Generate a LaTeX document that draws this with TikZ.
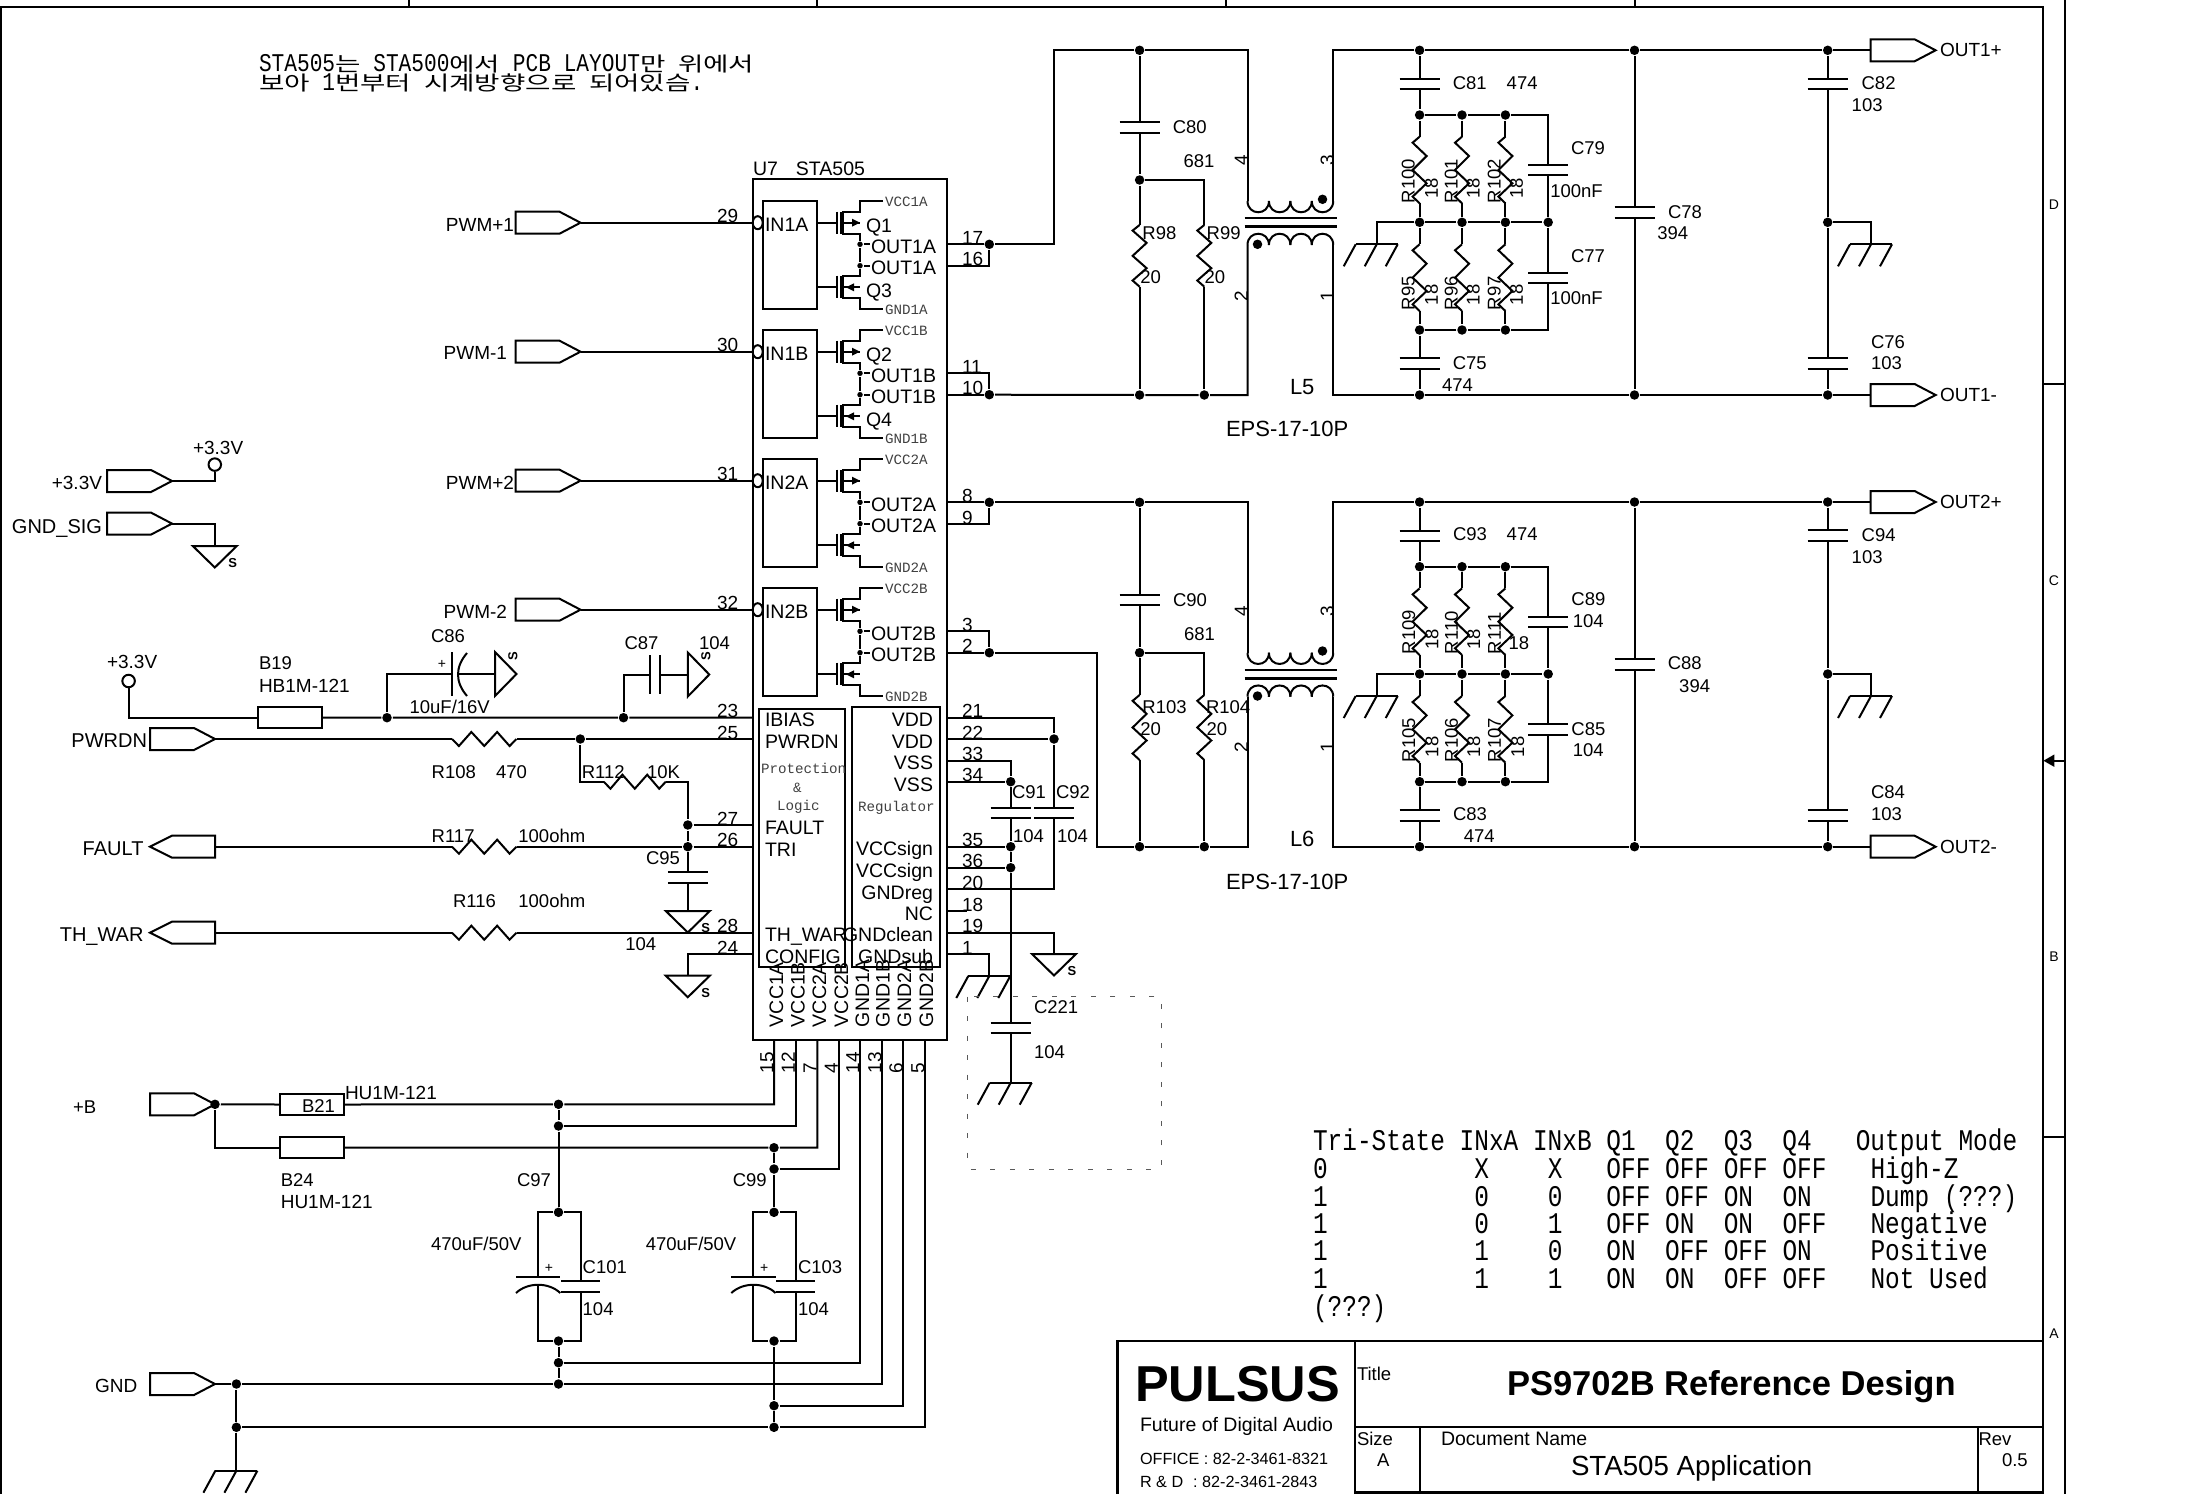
\documentclass[tikz,border=0pt]{standalone}
\usepackage{fontspec}
\usetikzlibrary{arrows.meta,shapes.geometric}
\setmainfont{Liberation Sans}
\newfontfamily\smallmono{Liberation Mono}
\newfontfamily\tablemono[FakeStretch=0.815]{Liberation Mono}
\newfontfamily\notemono[FakeStretch=0.83]{Liberation Mono}
\newfontfamily\notekr[FakeStretch=1.38]{Noto Sans CJK KR}
\newcommand{\kr}[1]{{\notekr\fontsize{20}{19.7}\selectfont #1}}
\tikzset{
  netdot/.style={circle,fill=black,inner sep=0pt,minimum size=9.5pt},
  fetdot/.style={circle,fill=black,inner sep=0pt,minimum size=5.5pt},
  bubble/.style={ellipse,draw,fill=white,inner sep=0pt,minimum width=10pt,minimum height=13pt},
  vccring/.style={circle,draw,inner sep=0pt,minimum size=12.5pt},
  bead/.style={draw,inner sep=0pt,minimum width=64pt,minimum height=21.6pt},
  lab/.style={anchor=west,inner sep=0pt,text height=13pt,text depth=0pt,font=\fontsize{18.5}{21}\selectfont},
  labr/.style={lab,anchor=east},
  labup/.style={lab,rotate=90},
  sidelab/.style={labr,text height=14pt,font=\fontsize{20}{22}\selectfont},
  chip/.style={anchor=west,inner sep=0pt,text height=14pt,text depth=0pt,font=\fontsize{19.5}{22}\selectfont},
  chipr/.style={chip,anchor=east},
  chipup/.style={chip,rotate=90},
  pinnum/.style={anchor=west,inner sep=0pt,text height=13.5pt,text depth=0pt,font=\fontsize{19}{22}\selectfont},
  pinup/.style={pinnum,rotate=90},
  tinymono/.style={anchor=west,inner sep=0pt,text height=8pt,text depth=0pt,text=black!75,font=\smallmono\fontsize{14.2}{16}\selectfont},
  gndmark/.style={inner sep=0pt,font=\fontsize{13}{13}\selectfont\bfseries},
  tabrow/.style={anchor=west,inner sep=0pt,text height=20pt,text depth=0pt,font=\tablemono\fontsize{30}{28}\selectfont},
  sheetmark/.style={inner sep=0pt,font=\fontsize{14}{16}\selectfont},
}
% parts
\newcommand{\capv}[5]{
  \coordinate (#1a) at (#2,#3);
  \coordinate (#1b) at (#2,#4);
  \draw ({#2-#5},#3) -- ({#2+#5},#3);
  \draw ({#2-#5},#4) -- ({#2+#5},#4);
}
\newcommand{\resv}[4]{
  \coordinate (#1a) at (#2,#3);
  \coordinate (#1b) at (#2,#4);
  \draw (#1a) -- ({#2-7},{#3+.09*(#4-#3)}) -- ({#2+7},{#3+.29*(#4-#3)}) -- ({#2-7},{#3+.5*(#4-#3)})
    -- ({#2+7},{#3+.7*(#4-#3)}) -- ({#2-7},{#3+.9*(#4-#3)}) -- (#1b);
}
\newcommand{\resh}[4]{
  \coordinate (#1a) at (#2,#4);
  \coordinate (#1b) at (#3,#4);
  \draw (#1a) -- ({#2+.107*(#3-#2)},{#4+7}) -- ({#2+.3*(#3-#2)},{#4-7}) -- ({#2+.5*(#3-#2)},{#4+7})
    -- ({#2+.7*(#3-#2)},{#4-7}) -- ({#2+.893*(#3-#2)},{#4+7}) -- (#1b);
}
\newcommand{\earth}[3]{
  \coordinate (#1) at (#2,#3);
  \draw ({#2-21},#3) -- ({#2+21},#3);
  \foreach \dx in {-21,0,21} {\draw ({#2+\dx},#3) -- ++(-12,22);}
}
\newcommand{\sgnd}[3]{
  \coordinate (#1) at (#2,#3);
  \draw ({#2-22},#3) -- ({#2+22},#3) -- (#2,{#3+21.5}) -- cycle;
  \node[gndmark] (#1s) at ({#2+18},{#3+17.5}) {S};
}
\newcommand{\sgndr}[3]{
  \coordinate (#1) at (#2,#3);
  \draw (#2,{#3-22}) -- (#2,{#3+22}) -- ({#2+21.5},#3) -- cycle;
  \node[gndmark,rotate=90] (#1s) at ({#2+18},{#3-18}) {S};
}
\newcommand{\port}[3]{
  \coordinate (#1b) at (#2,#3);
  \coordinate (#1t) at ({#2+65},#3);
  \draw (#2,{#3-11}) -- ({#2+44},{#3-11}) -- (#1t) -- ({#2+44},{#3+11}) -- (#2,{#3+11}) -- cycle;
}
\newcommand{\portl}[3]{
  \coordinate (#1t) at (#2,#3);
  \coordinate (#1b) at ({#2+65},#3);
  \draw (#1t) -- ({#2+22},{#3-11}) -- ({#2+65},{#3-11}) -- ({#2+65},{#3+11}) -- ({#2+22},{#3+11}) -- cycle;
}
\newcommand{\pinl}[2]{
  \coordinate (p#1) at (752.7,#2);
  \node[pinnum] (n#1) at (716,{#2-6.7}) {#1};
}
\newcommand{\pinr}[2]{
  \coordinate (p#1) at (946.7,#2);
  \node[pinnum] (n#1) at (961,{#2-6.7}) {#1};
}
\newcommand{\pinb}[2]{
  \coordinate (p#1) at (#2,1040);
  \node[pinup] (n#1) at ({#2-7.5},1074) {#1};
}
% one output stage of the chip, drawn at the place of the first and shifted
\newcommand{\halfbridge}[4]{
  \begin{scope}[shift={(0,#2-201)}]
  \node[draw,inner sep=0pt,minimum width=54pt,minimum height=108pt] (blk#1) at (790,255) {};
  \node[chip] (in#1) at (764,224) {IN#1};
  \node[lab,text height=14pt,font=\fontsize{19.5}{22}\selectfont] (qu#1) at (865,225) {#3};
  \node[lab,text height=14pt,font=\fontsize{19.5}{22}\selectfont] (qd#1) at (865,290) {#4};
  \node[chip] (ou#1) at (870,246) {OUT#1};
  \node[chip] (od#1) at (870,267) {OUT#1};
  \node[tinymono] (vcc#1) at (884,202.7) {VCC#1};
  \node[tinymono] (gnd#1) at (884,310.7) {GND#1};
  \node[fetdot] (du#1) at (860,244.3) {};
  \node[fetdot] (dd#1) at (860,265.7) {};
  \draw (817,222.7) -- (836.7,222.7);
  \draw (817,287.3) -- (836.7,287.3);
  \draw (836.7,211.7) -- (836.7,234);
  \draw (836.7,275.7) -- (836.7,298);
  \draw[line width=3.5pt] (842,211.7) -- (842,234);
  \draw[line width=3.5pt] (842,275.7) -- (842,298);
  \draw (883,201) -- (860,201) -- (860,211.7) -- (842,211.7);
  \draw (842,234) -- (860,234) -- (du#1) -- (dd#1) -- (860,275.7) -- (842,275.7);
  \draw (842,298) -- (860,298) -- (860,309) -- (883,309);
  \draw (842,222.7) -- (860,222.7);
  \draw (842,287.3) -- (860,287.3);
  \fill (860,222.7) -- (852,218.7) -- (852,226.7) -- cycle;
  \fill (846,287.3) -- (854,283.3) -- (854,291.3) -- cycle;
  \draw (du#1) -- (870,244.3);
  \draw (dd#1) -- (870,265.7);
  \end{scope}
}
% transformer and the output filter, same in both channels
\newcommand{\filter}[2]{
  \begin{scope}[shift={(0,#2)}]
  \foreach \k in {0,1,2,3} {
    \draw ({1247.5+21.43*\k},201) .. controls +(0,15) and +(0,15) .. +(21.43,0);
    \draw ({1247.5+21.43*\k},245) .. controls +(0,-15) and +(0,-15) .. +(21.43,0);
  }
  \draw (1244.6,218.3) -- (1336.8,218.3);
  \draw[line width=2.6pt] (1244.6,226.7) -- (1336.8,226.7);
  \node[netdot] (#1da) at (1322.5,199.3) {};
  \node[netdot] (#1db) at (1257.5,244.3) {};
  \coordinate (#1p4) at (1247.5,201);
  \coordinate (#1p3) at (1333.2,201);
  \coordinate (#1p2) at (1247.5,245);
  \coordinate (#1p1) at (1333.2,245);
  \node[pinup,anchor=center] (#1n4) at (1241,160) {4};
  \node[pinup,anchor=center] (#1n3) at (1327,160) {3};
  \node[pinup,anchor=center] (#1n2) at (1241,296) {2};
  \node[pinup,anchor=center] (#1n1) at (1327,296) {1};
  \node[netdot] (#1rt) at (1419.6,50.3) {};
  \node[netdot] (#1ft) at (1634.5,50.3) {};
  \node[netdot] (#1ot) at (1827.7,50.3) {};
  \node[netdot] (#1rb) at (1419.6,395) {};
  \node[netdot] (#1fb) at (1634.5,395) {};
  \node[netdot] (#1ob) at (1827.7,395) {};
  \node[netdot] (#1og) at (1827.7,222.3) {};
  \node[netdot] (#1m4) at (1548.2,222.3) {};
  \port{#1P}{1870.6}{50.3}
  \port{#1N}{1870.6}{395}
  \capv{#1Cu}{1419.6}{79.3}{89.3}{20}
  \capv{#1Cl}{1419.6}{358.3}{369}{20}
  \capv{#1Ct}{1548.2}{165}{175}{20}
  \capv{#1Cb}{1548.2}{272.7}{283}{20}
  \capv{#1Cf}{1634.5}{207.3}{218.3}{20}
  \capv{#1Cg}{1827.7}{78.7}{89.3}{20}
  \capv{#1Ch}{1827.7}{358.3}{369}{20}
  \earth{#1E}{1376.7}{244.3}
  \earth{#1Eo}{1871}{244.3}
  \foreach \k/\x in {1/1419.6,2/1462,3/1505.4} {
    \node[netdot] (#1a\k) at (\x,115) {};
    \node[netdot] (#1m\k) at (\x,222.3) {};
    \node[netdot] (#1z\k) at (\x,330) {};
    \resv{#1Ru\k}{\x}{136.7}{203.3}
    \resv{#1Rd\k}{\x}{244.3}{311}
    \draw (#1a\k) -- (#1Ru\k a);
    \draw (#1Ru\k b) -- (#1m\k) -- (#1Rd\k a);
    \draw (#1Rd\k b) -- (#1z\k);
  }
  \draw (#1p3) |- (#1rt) -- (#1ft) -- (#1ot) -- (#1Pb);
  \draw (#1p1) |- (#1rb) -- (#1fb) -- (#1ob) -- (#1Nb);
  \draw (#1rt) -- (#1Cua);
  \draw (#1Cub) -- (#1a1) -- (#1a2) -- (#1a3) -| (#1Cta);
  \draw (#1Ctb) -- (#1m4) -- (#1Cba);
  \draw (#1Cbb) |- (#1z3) -- (#1z2) -- (#1z1) -- (#1Cla);
  \draw (#1Clb) -- (#1rb);
  \draw (#1m1) -- (#1m2) -- (#1m3) -- (#1m4);
  \draw (#1m1) -| (#1E);
  \draw (#1ft) -- (#1Cfa);
  \draw (#1Cfb) -- (#1fb);
  \draw (#1ot) -- (#1Cga);
  \draw (#1Cgb) -- (#1og) -- (#1Cha);
  \draw (#1Chb) -- (#1ob);
  \draw (#1og) -| (#1Eo);
  \end{scope}
}
\begin{document}
\begin{tikzpicture}[x=1pt,y=-1pt,line width=2pt]
\useasboundingbox (0,0) rectangle (2201,1494);

% sheet frame
\draw (1,1494) -- (1,7.3) -- (2043.4,7.3) -- (2043.4,1494);
\draw (2065,0) -- (2065,1494);
\foreach \x in {408.5,817,1226,1634.5} {\draw (\x,0) -- (\x,7.3);}
\draw (2043.4,384) -- (2065,384);
\draw (2043.4,1137) -- (2065,1137);
\draw[-{Triangle[length=11pt,width=12pt]}] (2065,760.7) -- (2043.4,760.7);
\node[sheetmark] (markD) at (2054,205) {D};
\node[sheetmark] (markC) at (2054,580.7) {C};
\node[sheetmark] (markB) at (2054,957) {B};
\node[sheetmark] (markA) at (2054,1334) {A};

% note
\node[anchor=north west,inner sep=0pt,align=left,font=\notemono\fontsize{25.5}{19.7}\selectfont] (note) at (258,53)
  {STA505\kr{는} STA500\kr{에서} PCB LAYOUT\kr{만} \kr{위에서}\\
   \kr{보아} 1\kr{번부터} \kr{시계방향으로} \kr{되어있슴}.};

% the chip
\node[draw,inner sep=0pt,minimum width=194pt,minimum height=860.7pt] (U7) at (849.7,609.65) {};
\node[anchor=base west,inner sep=0pt,font=\fontsize{19.5}{22}\selectfont] (U7name) at (752,175) {U7\hspace{18pt}STA505};
\halfbridge{1A}{201}{Q1}{Q3}
\halfbridge{1B}{330}{Q2}{Q4}
\halfbridge{2A}{459}{}{}
\halfbridge{2B}{588}{}{}
\node[draw,inner sep=0pt,minimum width=86.3pt,minimum height=257.7pt] (logic) at (802.2,837.85) {};
\node[draw,inner sep=0pt,minimum width=88.3pt,minimum height=260pt] (regul) at (895.85,836.7) {};
\node[chip] (tIBIAS) at (764,719) {IBIAS};
\node[chip] (tPWRDN) at (764,741.7) {PWRDN};
\node[tinymono] (tProt) at (760,769) {Protection};
\node[tinymono] (tAmp) at (792,788) {\&};
\node[tinymono] (tLogic) at (776,806) {Logic};
\node[chip] (tFAULT) at (764,827) {FAULT};
\node[chip] (tTRI) at (764,849) {TRI};
\node[chip] (tTHWAR) at (764,934.7) {TH\_WAR};
\node[chip] (tCONFIG) at (764,956.7) {CONFIG};
\node[chipr] (tVDDa) at (934,719) {VDD};
\node[chipr] (tVDDb) at (934,741.7) {VDD};
\node[chipr] (tVSSa) at (934,762) {VSS};
\node[chipr] (tVSSb) at (934,784) {VSS};
\node[tinymono] (tRegul) at (857,807.7) {Regulator};
\node[chipr] (tVCCa) at (934,848.7) {VCCsign};
\node[chipr] (tVCCb) at (934,870.7) {VCCsign};
\node[chipr] (tGNDreg) at (934,892) {GNDreg};
\node[chipr] (tNC) at (934,913) {NC};
\node[chipr] (tGNDclean) at (934,934.7) {GNDclean};
\node[chipr] (tGNDsub) at (934,956.7) {GNDsub};
\foreach \n/\x in {VCC1A/776,VCC1B/797.5,VCC2A/819,VCC2B/841,GND1A/862,GND1B/882.5,GND2A/904,GND2B/926} {
  \node[chipup] (t\n) at (\x,1028) {\n};
}

% pins
\foreach \n/\y in {29/222.7,30/351.7,31/480.7,32/609.7,23/717.7,25/739,27/825,26/846.7,28/932.7,24/954.3} {\pinl{\n}{\y}}
\foreach \n/\y in {17/244.3,16/265.7,11/373,10/394.7,8/502.3,9/524,3/631.3,2/652.7,21/717.7,22/739,33/760.7,34/781.7,35/846.7,36/867.7,20/889.3,18/911,19/932.7,1/954.3} {\pinr{\n}{\y}}
\foreach \n/\x in {15/774,12/795.7,7/817.3,4/838.7,14/860,13/882,6/903.3,5/925} {\pinb{\n}{\x}}

% inputs
\foreach \n/\p/\y in {PWMpa/29/222.7,PWMma/30/351.7,PWMpb/31/480.7,PWMmb/32/609.7} {
  \port{\n}{515.5}{\y}
  \node[bubble] (bub\p) at (757.7,\y) {};
  \draw (\n t) -- (bub\p);
}
\node[labr,font=\fontsize{19}{21}\selectfont] (tPWMpa) at (515,224.6) {PWM+1};
\node[labr,font=\fontsize{19}{21}\selectfont] (tPWMma) at (508,353) {PWM-1};
\node[labr,font=\fontsize{19}{21}\selectfont] (tPWMpb) at (515,482.9) {PWM+2};
\node[labr,font=\fontsize{19}{21}\selectfont] (tPWMmb) at (508,612) {PWM-2};

\port{Pvcc}{107}{481}
\node[vccring] (VccA) at (214.8,464.6) {};
\draw (Pvcct) -| (VccA);
\node[lab,font=\fontsize{19}{21}\selectfont] (tVccA) at (192,448) {+3.3V};
\node[labr,font=\fontsize{19}{21}\selectfont] (tPvcc) at (103,483) {+3.3V};
\port{Psig}{107}{523.6}
\sgnd{GsA}{214.8}{546}
\draw (Psigt) -| (GsA);
\node[sidelab] (tPsig) at (103,526) {GND\_SIG};

% bias, caps
\node[vccring] (VccB) at (128.6,681) {};
\node[lab,font=\fontsize{19}{21}\selectfont] (tVccB) at (106,662) {+3.3V};
\node[bead] (B19) at (290.2,717.5) {};
\node[netdot] (dC86) at (387,717.7) {};
\node[netdot] (dC87) at (623.5,717.7) {};
\draw (VccB) |- (B19.west);
\draw (B19.east) -- (dC86) -- (dC87) -- (p23);
\node[lab] (tB19) at (258,663.3) {B19};
\node[lab,font=\fontsize{19}{21}\selectfont] (vB19) at (258,685.7) {HB1M-121};
\coordinate (C86a) at (452,674);
\coordinate (C86b) at (459,674);
\draw (dC86) |- (C86a);
\draw (452,652.3) -- (452,696);
\draw (467,653) .. controls (455,667) and (455,682) .. (467,696);
\sgndr{GsB}{495}{674}
\draw (C86b) -- (GsB);
\node[inner sep=0pt,font=\fontsize{14}{16}\selectfont] (plusC86) at (442,664) {+};
\node[lab] (tC86) at (430,635.7) {C86};
\node[lab] (vC86) at (408.6,707.3) {10uF/16V};
\coordinate (C87a) at (649.7,674.5);
\coordinate (C87b) at (660.3,674.5);
\draw (649.7,655) -- (649.7,694);
\draw (660.3,655) -- (660.3,694);
\sgndr{GsC}{687.8}{674.5}
\draw (dC87) |- (C87a);
\draw (C87b) -- (GsC);
\node[lab] (tC87) at (623.5,642.7) {C87};
\node[lab] (vC87) at (698,643) {104};

% PWRDN, FAULT, TH_WAR
\port{PPwrdn}{150}{739}
\node[sidelab] (tPPwrdn) at (148,740.5) {PWRDN};
\resh{R108}{452}{516.5}{739}
\node[netdot] (dR112) at (580.3,739) {};
\draw (PPwrdnt) -- (R108a);
\draw (R108b) -- (dR112) -- (p25);
\node[lab] (tR108) at (430.7,771.7) {R108};
\node[lab] (vR108) at (495,771.7) {470};
\resh{R112}{603.8}{665.8}{781.7}
\node[netdot] (d27) at (687.8,825) {};
\node[netdot] (d26) at (687.8,846.7) {};
\draw (dR112) |- (R112a);
\draw (R112b) -| (d27);
\draw (d27) -- (p27);
\draw (d26) -- (p26);
\node[lab] (tR112) at (580.8,771.7) {R112};
\node[lab] (vR112) at (646,771.7) {10K};
\portl{PFault}{150}{846.7}
\resh{R117}{452}{516.5}{846.7}
\draw (PFaultb) -- (R117a);
\draw (R117b) -- (d26);
\node[sidelab] (tPFault) at (144.5,848) {FAULT};
\node[lab] (tR117) at (430.7,835.7) {R117};
\node[lab] (vR117) at (517.4,835.7) {100ohm};
\capv{C95}{687.8}{872.3}{883}{20}
\sgnd{GsD}{687.8}{911}
\draw (d27) -- (d26) -- (C95a);
\draw (C95b) -- (GsD);
\node[lab] (tC95) at (645,857.7) {C95};
\node[lab] (vC95) at (624.4,944) {104};
\portl{PThwar}{150}{932.7}
\resh{R116}{452}{516.5}{932.7}
\draw (PThwarb) -- (R116a);
\draw (R116b) -- (p28);
\node[sidelab] (tPThwar) at (144.5,934) {TH\_WAR};
\node[lab] (tR116) at (452,901) {R116};
\node[lab] (vR116) at (517.4,901) {100ohm};
\sgnd{GsE}{687.8}{975.7}
\draw (p24) -| (GsE);

% chip, right side
\node[netdot] (d17) at (989.3,244.3) {};
\node[netdot] (d10) at (989.3,394.7) {};
\node[netdot] (d8) at (989.3,502.3) {};
\node[netdot] (d2) at (989.3,652.7) {};
\draw (p17) -- (d17);
\draw (p16) -| (d17);
\draw (p11) -| (d10);
\draw (p10) -- (d10);
\draw (p8) -- (d8);
\draw (p9) -| (d8);
\draw (p3) -| (d2);
\draw (p2) -- (d2);
\node[netdot] (d22) at (1054,739) {};
\node[netdot] (d34) at (1010.7,781.7) {};
\node[netdot] (d35) at (1010.7,846.7) {};
\node[netdot] (d36) at (1010.7,867.7) {};
\capv{C91}{1010.7}{808}{818}{20}
\capv{C92}{1054}{808}{818}{20}
\capv{C221}{1010.7}{1022.7}{1033}{20}
\earth{EA}{989.3}{976}
\earth{EB}{1010.7}{1082.7}
\sgnd{GsF}{1054}{954}
\coordinate (nc18) at (966.7,911);
\draw (p21) -| (d22);
\draw (p22) -- (d22) -- (C92a);
\draw (C92b) |- (p20);
\draw (p33) -| (d34);
\draw (p34) -- (d34) -- (C91a);
\draw (C91b) -- (d35) -- (d36) -- (C221a);
\draw (C221b) -- (EB);
\draw (p35) -- (d35);
\draw (p36) -- (d36);
\draw (p18) -- (nc18);
\draw (p19) -| (GsF);
\draw (p1) -| (EA);
\node[lab] (tC91) at (1011,792) {C91};
\node[lab] (tC92) at (1055,792) {C92};
\node[lab] (vC91) at (1012,835.7) {104};
\node[lab] (vC92) at (1056,835.7) {104};
\node[lab] (tC221) at (1033,1007) {C221};
\node[lab] (vC221) at (1033,1051.7) {104};
\draw[line width=1pt,black!65,dash pattern=on 5pt off 14.5pt] (967.7,996.7) rectangle (1161.7,1169);

% channel 1
\filter{L5}{0}
\node[netdot] (dC80) at (1139.6,50.3) {};
\node[netdot] (dR98) at (1139.6,180) {};
\node[netdot] (dR98b) at (1139.6,395) {};
\node[netdot] (dR99b) at (1204.3,395) {};
\coordinate (railA) at (1054,50.3);
\capv{C80}{1139.6}{122}{132.7}{20}
\resv{R98}{1139.6}{225}{286.7}
\resv{R99}{1204.3}{225}{286.7}
\draw (d17) -| (railA) -- (dC80) -| (L5p4);
\draw (dC80) -- (C80a);
\draw (C80b) -- (dR98) -- (R98a);
\draw (R98b) -- (dR98b);
\draw (dR98) -| (R99a);
\draw (R99b) -- (dR99b);
\draw (d10) -- (dR98b) -- (dR99b) -| (L5p2);
\node[lab] (tC80) at (1171.8,126.7) {C80};
\node[lab] (vC80) at (1182.5,160.7) {681};
\node[lab] (tR98) at (1141.4,233.3) {R98};
\node[lab] (vR98) at (1139.3,276.7) {20};
\node[lab] (tR99) at (1205.7,233.3) {R99};
\node[lab] (vR99) at (1203.6,276.7) {20};
\node[lab,text height=15pt,font=\fontsize{22}{24}\selectfont] (tL5) at (1289,387) {L5};
\node[lab,text height=15pt,font=\fontsize{22}{24}\selectfont] (vL5) at (1225,429) {EPS-17-10P};
\node[lab] (tC81) at (1451.8,83.3) {C81};
\node[lab] (vC81) at (1505.7,83.3) {474};
\node[lab] (tC79) at (1570,147.7) {C79};
\node[lab] (vC79) at (1549.3,191) {100nF};
\node[lab] (tC77) at (1570,255.7) {C77};
\node[lab] (vC77) at (1549.3,298.3) {100nF};
\node[lab] (tC75) at (1451.8,362.7) {C75};
\node[lab] (vC75) at (1441,385) {474};
\node[lab] (tC78) at (1667,212.3) {C78};
\node[lab] (vC78) at (1656.3,233.3) {394};
\node[lab] (tC82) at (1860.6,83.3) {C82};
\node[lab] (vC82) at (1850.7,104.7) {103};
\node[lab] (tC76) at (1870,341.7) {C76};
\node[lab] (vC76) at (1870,362.7) {103};
\node[lab,font=\fontsize{19}{21}\selectfont] (tOUTap) at (1939,50.3) {OUT1+};
\node[lab,font=\fontsize{19}{21}\selectfont] (tOUTam) at (1939,395) {OUT1-};
\foreach \n/\x in {R100/1408,R101/1451,R102/1494} {\node[labup] (t\n) at (\x,204) {\n};}
\foreach \n/\x in {R95/1408,R96/1451,R97/1494} {\node[labup] (t\n) at (\x,311) {\n};}
\foreach \x in {1431.4,1473,1516.4} {
  \node[labup] at (\x,199.3) {18};
  \node[labup] at (\x,306) {18};
}

% channel 2
\filter{L6}{451.7}
\node[netdot] (dC90) at (1139.6,502.3) {};
\node[netdot] (dR103) at (1139.6,652.7) {};
\node[netdot] (dR103b) at (1139.6,846.7) {};
\node[netdot] (dR104b) at (1204.3,846.7) {};
\coordinate (railB) at (1097.3,846.7);
\capv{C90}{1139.6}{594.7}{605}{20}
\resv{R103}{1139.6}{695}{760}
\resv{R104}{1204.3}{695}{760}
\draw (d8) -- (dC90) -| (L6p4);
\draw (dC90) -- (C90a);
\draw (C90b) -- (dR103) -- (R103a);
\draw (R103b) -- (dR103b);
\draw (dR103) -| (R104a);
\draw (R104b) -- (dR104b);
\draw (d2) -| (railB) -- (dR103b) -- (dR104b) -| (L6p2);
\node[lab] (tC90) at (1172,600) {C90};
\node[lab] (vC90) at (1183,634) {681};
\node[lab] (tR103) at (1141.4,707.3) {R103};
\node[lab] (vR103) at (1139.3,729) {20};
\node[lab] (tR104) at (1205,707.3) {R104};
\node[lab] (vR104) at (1205.7,729) {20};
\node[lab,text height=15pt,font=\fontsize{22}{24}\selectfont] (tL6) at (1289,839) {L6};
\node[lab,text height=15pt,font=\fontsize{22}{24}\selectfont] (vL6) at (1225,881.7) {EPS-17-10P};
\node[lab] (tC93) at (1452,534.3) {C93};
\node[lab] (vC93) at (1505.7,534.3) {474};
\node[lab] (tC89) at (1570.4,599.3) {C89};
\node[lab] (vC89) at (1571.8,620.7) {104};
\node[lab] (tC85) at (1570.4,729) {C85};
\node[lab] (vC85) at (1571.8,750) {104};
\node[lab] (tC83) at (1452,814.3) {C83};
\node[lab] (vC83) at (1462.9,835.7) {474};
\node[lab] (tC88) at (1666.8,663.3) {C88};
\node[lab] (vC88) at (1678.2,685.7) {394};
\node[lab] (tC94) at (1860.7,534.7) {C94};
\node[lab] (vC94) at (1850.7,556.7) {103};
\node[lab] (tC84) at (1870,792.3) {C84};
\node[lab] (vC84) at (1870,814.3) {103};
\node[lab,font=\fontsize{19}{21}\selectfont] (tOUTbp) at (1939,502.3) {OUT2+};
\node[lab,font=\fontsize{19}{21}\selectfont] (tOUTbm) at (1939,846.7) {OUT2-};
\foreach \n/\x in {R109/1408.6,R110/1451.4,R111/1494.3} {\node[labup] (t\n) at (\x,655) {\n};}
\foreach \n/\x in {R105/1408.6,R106/1451.4,R107/1494.3} {\node[labup] (t\n) at (\x,763.3) {\n};}
\node[labup] at (1431.8,650.7) {18};
\node[labup] at (1473.6,650.7) {18};
\node[lab] at (1507.5,642.7) {18};
\foreach \x in {1431.8,1473.6,1517.5} {\node[labup] at (\x,758) {18};}

% supply
\port{PB}{150}{1104.3}
\node[lab] (tPB) at (72,1106.7) {+B};
\node[netdot] (dBp) at (215,1104.3) {};
\node[bead] (B21) at (312,1104.5) {};
\node[bead] (B24) at (312,1147.5) {};
\node[lab] (tB21) at (301,1106) {B21};
\node[lab,font=\fontsize{19}{21}\selectfont] (vB21) at (344,1093.3) {HU1M-121};
\node[lab] (tB24) at (279.8,1180) {B24};
\node[lab,font=\fontsize{19}{21}\selectfont] (vB24) at (279.8,1201.7) {HU1M-121};
\node[netdot] (dB1) at (558.5,1104.3) {};
\node[netdot] (dB2) at (558.5,1126) {};
\node[netdot] (dC97) at (558.5,1212.3) {};
\node[netdot] (dC97b) at (558.5,1341) {};
\node[netdot] (dG1) at (558.5,1362.7) {};
\node[netdot] (dG2) at (558.5,1384) {};
\node[netdot] (dB3) at (774,1147.7) {};
\node[netdot] (dB4) at (774,1169) {};
\node[netdot] (dC99) at (774,1212.3) {};
\node[netdot] (dC99b) at (774,1341) {};
\node[netdot] (dG3) at (774,1405.7) {};
\node[netdot] (dG4) at (774,1427.3) {};
\draw (dBp) -- (B21.west);
\draw (dBp) |- (B24.west);
\draw (B21.east) -- (dB1) -| (p15);
\draw (dB2) -| (p12);
\draw (B24.east) -- (dB3) -| (p7);
\draw (dB4) -| (p4);
\draw (dB1) -- (dB2) -- (dC97);
\draw (dB3) -- (dB4) -- (dC99);
\draw (dC97b) -- (dG1) -- (dG2);
\draw (dC99b) -- (dG3) -- (dG4);
\draw (dG1) -| (p14);
\draw (dG3) -| (p6);

% bulk caps
\foreach \n/\x/\y in {C97/537.7/C101,C99/753/C103} {
  \coordinate (\n p) at (\x,1276.7);
  \coordinate (\n q) at (\x,1285);
  \draw ({\x-21.7},1276.7) -- ({\x+22.6},1276.7);
  \draw ({\x-21.7},1293) .. controls ({\x-10},1282) and ({\x+11},1282) .. ({\x+22.6},1293);
  \node[inner sep=0pt,font=\fontsize{14}{16}\selectfont] (plus\n) at ({\x+11.3},1268) {+};
  \capv{\y}{\x+42.8}{1280.7}{1291.7}{19.5}
  \draw (d\n) -| (\n p);
  \draw (\n q) |- (d\n b);
  \draw (d\n) -| (\y a);
  \draw (\y b) |- (d\n b);
}
\node[lab] (tC97) at (516,1180) {C97};
\node[lab] (vC97) at (430,1244.3) {470uF/50V};
\node[lab] (tC101) at (581.7,1266.7) {C101};
\node[lab] (vC101) at (581.7,1309.3) {104};
\node[lab] (tC99) at (731.8,1180) {C99};
\node[lab] (vC99) at (644.8,1244.3) {470uF/50V};
\node[lab] (tC103) at (797,1266.7) {C103};
\node[lab] (vC103) at (797,1309.3) {104};

% ground
\port{PG}{150}{1384}
\node[lab,font=\fontsize{19}{21}\selectfont] (tPG) at (94,1386) {GND};
\node[netdot] (dGp) at (236.4,1384) {};
\node[netdot] (dGq) at (236.4,1427.3) {};
\earth{EG}{236.4}{1470.7}
\draw (PGt) -- (dGp) -- (dG2) -| (p13);
\draw (dGq) -- (dG4) -| (p5);
\draw (dGp) -- (dGq) -- (EG);

% mode table
\node[tabrow] (row0) at (1312,1140.5) {Tri-State~INxA~INxB~Q1~~Q2~~Q3~~Q4~~~Output~Mode};
\node[tabrow] (row1) at (1312,1168) {0~~~~~~~~~~X~~~~X~~~OFF~OFF~OFF~OFF~~~High-Z};
\node[tabrow] (row2) at (1312,1196) {1~~~~~~~~~~0~~~~0~~~OFF~OFF~ON~~ON~~~~Dump~(???)};
\node[tabrow] (row3) at (1312,1223.7) {1~~~~~~~~~~0~~~~1~~~OFF~ON~~ON~~OFF~~~Negative};
\node[tabrow] (row4) at (1312,1250.5) {1~~~~~~~~~~1~~~~0~~~ON~~OFF~OFF~ON~~~~Positive};
\node[tabrow] (row5) at (1312,1278) {1~~~~~~~~~~1~~~~1~~~ON~~ON~~OFF~OFF~~~Not~Used};
\node[tabrow] (row6) at (1312,1306) {(???)};

% title block
\draw[line width=2.4pt] (1117.6,1494) -- (1117.6,1340.7) -- (2043.4,1340.7);
\draw[line width=2.4pt] (1355,1340.7) -- (1355,1494);
\draw[line width=2.4pt] (1355,1426.7) -- (2043.4,1426.7);
\draw[line width=2.4pt] (1355,1492.3) -- (2043.4,1492.3);
\draw (1419.5,1426.7) -- (1419.5,1492.3);
\draw (1977.8,1426.7) -- (1977.8,1492.3);
\draw (1742.6,1492.3) -- (1742.6,1494);
\node[lab,text height=36pt,font=\fontsize{50.5}{55}\selectfont\bfseries] (tPulsus) at (1134,1383.3) {PULSUS};
\node[lab,text height=14pt,font=\fontsize{19.5}{22}\selectfont] (tFuture) at (1139,1424.3) {Future of Digital Audio};
\node[lab,text height=12pt,font=\fontsize{16.2}{19}\selectfont] (tOffice) at (1139,1458.3) {OFFICE : 82-2-3461-8321};
\node[lab,text height=12pt,font=\fontsize{16.2}{19}\selectfont] (tRnd) at (1139,1481) {R \& D\hspace{10pt}: 82-2-3461-2843};
\node[lab] (tTitle) at (1356,1374.3) {Title};
\node[lab,text height=25pt,font=\fontsize{34.5}{38}\selectfont\bfseries] (tDesign) at (1506,1383.3) {PS9702B Reference Design};
\node[lab] (tSize) at (1356,1439.3) {Size};
\node[lab] (vSize) at (1376,1460) {A};
\node[lab,font=\fontsize{19.5}{22}\selectfont] (tDoc) at (1440,1439) {Document Name};
\node[lab,text height=20pt,font=\fontsize{27.7}{30}\selectfont] (vDoc) at (1570,1465.7) {STA505 Application};
\node[lab] (tRev) at (1977.5,1439) {Rev};
\node[lab] (vRev) at (2001,1460) {0.5};
\end{tikzpicture}
\end{document}
